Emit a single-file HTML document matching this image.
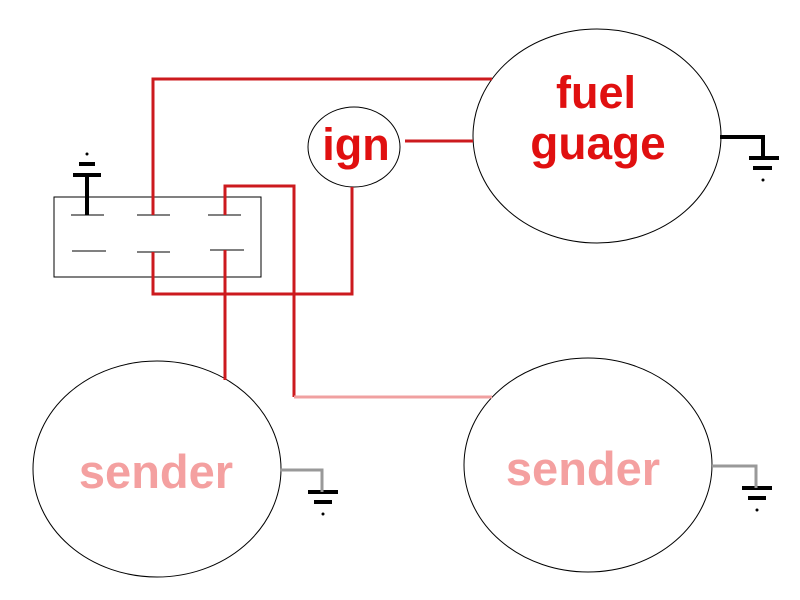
<!DOCTYPE html>
<html><head><style>body{margin:0;background:#fff}svg{display:block}</style></head><body>
<svg width="800" height="600" xmlns="http://www.w3.org/2000/svg" font-family="Liberation Sans, Arial, sans-serif" font-weight="bold">
<g fill="none" stroke="#000" stroke-width="1">
<ellipse cx="597" cy="136" rx="124" ry="107"/>
<ellipse cx="354" cy="147" rx="46" ry="40"/>
<ellipse cx="157" cy="469" rx="124" ry="108"/>
<ellipse cx="588" cy="465" rx="124" ry="107"/>
<rect x="54" y="197" width="207" height="80"/>
<line x1="71" y1="215" x2="104" y2="215"/><line x1="137" y1="215" x2="170" y2="215"/><line x1="208" y1="215" x2="241" y2="215"/>
<line x1="72" y1="251" x2="106" y2="251"/><line x1="137" y1="252" x2="170" y2="252"/><line x1="210" y1="250" x2="244" y2="250"/>
</g>
<g fill="none" stroke="#cc1a1e" stroke-width="3">
<polyline points="153,215 153,79 492,79"/>
<polyline points="225,215 225,186 294,186 294,397"/>
<polyline points="153,252 153,294 352,294 352,187"/>
<line x1="225" y1="250" x2="225" y2="380"/>
<line x1="405" y1="141" x2="473" y2="141"/>
</g>
<line x1="294" y1="397" x2="492" y2="397" stroke="#f0a0a0" stroke-width="3"/>
<g stroke="#000" stroke-width="4" fill="none">
<line x1="87" y1="215" x2="87" y2="175"/><line x1="73" y1="175" x2="101" y2="175"/><line x1="79" y1="164" x2="95" y2="164"/>
<polyline points="720,137 763,137 763,158"/><line x1="749" y1="158" x2="779" y2="158"/><line x1="753" y1="168" x2="772" y2="168"/>
<line x1="308" y1="492" x2="338" y2="492"/><line x1="314" y1="502" x2="332" y2="502"/>
<line x1="742" y1="488" x2="772" y2="488"/><line x1="748" y1="498" x2="766" y2="498"/>
</g>
<g stroke="#999" stroke-width="3" fill="none">
<polyline points="280,470 322,470 322,492"/>
<polyline points="712,466 756,466 756,488"/>
</g>
<g fill="#000"><circle cx="87" cy="154" r="1.5"/><circle cx="763" cy="180" r="1.5"/><circle cx="323" cy="514" r="1.5"/><circle cx="757" cy="510" r="1.5"/></g>
<g fill="#e01010" text-anchor="middle">
<text x="596" y="108" font-size="45">fuel</text>
<text x="598" y="159" font-size="46">guage</text>
<text x="356" y="160" font-size="45">ign</text>
</g>
<g fill="#f4a0a0" text-anchor="middle" font-size="47">
<text x="156" y="488">sender</text>
<text x="583" y="485">sender</text>
</g>
</svg>
</body></html>
